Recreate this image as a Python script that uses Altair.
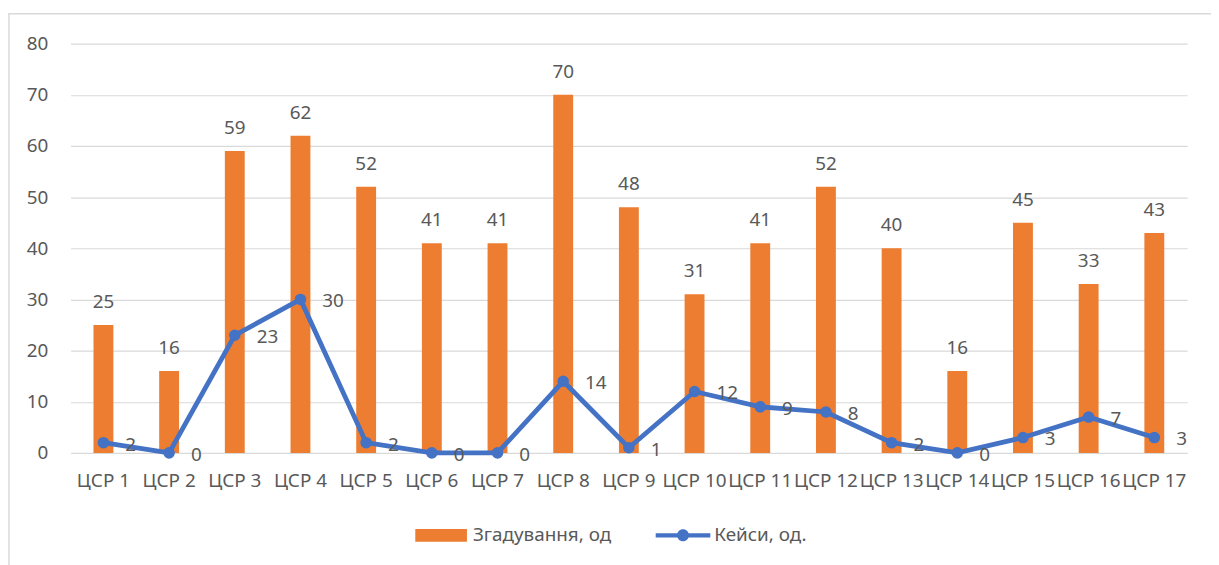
import altair as alt
import pandas as pd

categories = ["ЦСР 1", "ЦСР 2", "ЦСР 3", "ЦСР 4", "ЦСР 5", "ЦСР 6", "ЦСР 7", "ЦСР 8", "ЦСР 9",
              "ЦСР 10", "ЦСР 11", "ЦСР 12", "ЦСР 13", "ЦСР 14", "ЦСР 15", "ЦСР 16", "ЦСР 17"]
mentions = [25, 16, 59, 62, 52, 41, 41, 70, 48, 31, 41, 52, 40, 16, 45, 33, 43]
cases = [2, 0, 23, 30, 2, 0, 0, 14, 1, 12, 9, 8, 2, 0, 3, 7, 3]
series_bar = "Згадування, од"
series_line = "Кейси, од."
y_ticks = [0, 10, 20, 30, 40, 50, 60, 70, 80]

ORANGE = "#ED7D31"
BLUE = "#4472C4"
GRID = "#D9D9D9"
TEXT = "#595959"
FONT = "Noto Sans"
FS = 19

df = pd.DataFrame({"cat": categories, "mentions": mentions, "cases": cases})
df["s1"] = series_bar
df["s2"] = series_line

x = alt.X("cat:N", sort=categories, title=None,
          scale=alt.Scale(paddingInner=0, paddingOuter=0),
          axis=alt.Axis(labelAngle=0, labelOverlap=False, ticks=False, tickSize=0,
                        domain=False, grid=False, labelPadding=19, labelFontSize=FS,
                        labelColor=TEXT, labelBaseline="top"))
yscale = alt.Scale(domain=[0, 80], nice=False)

base = alt.Chart(df)

bars = base.mark_bar(size=20).encode(
    x=x,
    y=alt.Y("mentions:Q", scale=yscale, title=None,
            axis=alt.Axis(values=y_ticks, grid=True, gridColor=GRID, gridWidth=1.2,
                          domain=False, ticks=False, tickSize=0, labelPadding=23,
                          labelFontSize=FS, labelColor=TEXT)),
    color=alt.Color("s1:N", title=None,
                    scale=alt.Scale(domain=[series_bar], range=[ORANGE]),
                    legend=alt.Legend(orient="none", legendX=347, legendY=469,
                                      symbolType="M-1,-0.25H1V0.25H-1Z", symbolSize=2704,
                                      symbolStrokeWidth=0, labelFontSize=FS, labelColor=TEXT,
                                      labelOffset=6, padding=0)),
)

bar_labels = base.mark_text(dy=-17, baseline="alphabetic", fontSize=FS, color=TEXT).encode(
    x=x, y=alt.Y("mentions:Q", scale=yscale), text="mentions:Q")

line = base.mark_line(color=BLUE, strokeWidth=4.8).encode(
    x=x, y=alt.Y("cases:Q", scale=yscale))

points = base.mark_point(filled=True, size=135, opacity=1).encode(
    x=x, y=alt.Y("cases:Q", scale=yscale),
    fill=alt.Fill("s2:N", title=None,
                  scale=alt.Scale(domain=[series_line], range=[BLUE]),
                  legend=alt.Legend(orient="none", legendX=589, legendY=467.5,
                                    symbolType="M-1,-0.08H1V0.08H-1Z M0.22,0A0.22,0.22 0 1,1 -0.22,0A0.22,0.22 0 1,1 0.22,0Z",
                                    symbolSize=3025, symbolStrokeWidth=0,
                                    labelFontSize=FS, labelColor=TEXT,
                                    labelOffset=4, padding=0)),
)

line_labels = base.mark_text(align="left", dx=22, dy=2, baseline="middle",
                             fontSize=FS, color=TEXT).encode(
    x=x, y=alt.Y("cases:Q", scale=yscale), text="cases:Q")

border = alt.Chart(pd.DataFrame({"a": [0]})).mark_rect(
    fill=None, stroke=GRID, strokeWidth=1.5, clip=False).encode(
    x=alt.value(-62), x2=alt.value(1300), y=alt.value(-30), y2=alt.value(700))

chart = alt.layer(border, bars, line, points, bar_labels, line_labels).properties(
    width=1124, height=412,
    autosize=alt.AutoSizeParams(type="none"),
    padding={"left": 63, "top": 34, "right": 24, "bottom": 112},
    background="white",
).configure(font=FONT).configure_view(stroke=None)

chart.save("out.html", embed_options={"renderer": "svg", "actions": False})
